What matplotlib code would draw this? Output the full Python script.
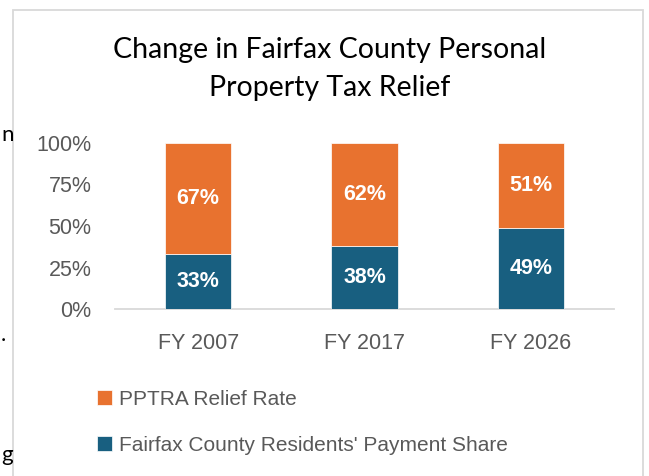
import numpy as np
import matplotlib.pyplot as plt
from matplotlib.patches import Rectangle

ORANGE = "#E8722F"
BLUE = "#185F80"
GREY = "#595959"
LINE = "#D9D9D9"

years = ["FY 2007", "FY 2017", "FY 2026"]
payment_share = [0.33, 0.38, 0.49]
relief_rate = [0.67, 0.62, 0.51]
yticks = [0, 0.25, 0.5, 0.75, 1.0]
ytick_labels = ["0%", "25%", "50%", "75%", "100%"]

W, H = 649, 476
fig = plt.figure(figsize=(W / 100, H / 100), dpi=100)
fig.patch.set_facecolor("white")

# chart frame of the screenshot
fig.patches.append(Rectangle((13 / W, -0.05), (643 - 13) / W, 1.05 - 10 / H,
                             transform=fig.transFigure, fill=False,
                             edgecolor=LINE, lw=1.3))
# cut-off text from the page around the chart
fig.text(1 / W, 1 - 135 / H, "n", fontsize=16, family="Lato", va="center", ha="left")
fig.text(1 / W, 1 - 335 / H, ".", fontsize=16, family="Lato", va="center", ha="left")
fig.text(1 / W, 1 - 455 / H, "g", fontsize=16, family="Lato", va="center", ha="left")

ax = fig.add_axes([115 / W, 1 - 309 / H, (614 - 115) / W, (309 - 143) / H])
x = np.arange(len(years))
bw = 0.40
ax.bar(x, payment_share, bw, color=BLUE, label="Fairfax County Residents' Payment Share",
       edgecolor="white", linewidth=0.5, zorder=3)
ax.bar(x, relief_rate, bw, bottom=payment_share, color=ORANGE, label="PPTRA Relief Rate",
       edgecolor="white", linewidth=0.5, zorder=3)

for i in range(len(years)):
    ax.text(x[i], payment_share[i] / 2, f"{payment_share[i]:.0%}", ha="center", va="center",
            color="white", fontsize=15.5, fontweight="bold", family="Liberation Sans")
    ax.text(x[i], payment_share[i] + relief_rate[i] / 2, f"{relief_rate[i]:.0%}", ha="center",
            va="center", color="white", fontsize=15.5, fontweight="bold", family="Liberation Sans")

ax.set_xlim(-0.5, 2.5)
ax.set_ylim(0, 1)
ax.set_yticks(yticks)
ax.set_yticklabels(ytick_labels)
ax.set_xticks(x)
ax.set_xticklabels(years)
for spine in ["top", "right", "left"]:
    ax.spines[spine].set_visible(False)
ax.spines["bottom"].set_color(LINE)
ax.spines["bottom"].set_linewidth(1.3)
ax.tick_params(length=0, labelsize=15.5, colors=GREY)
ax.tick_params(axis="y", pad=17)
ax.tick_params(axis="x", pad=17)
for lab in ax.get_xticklabels() + ax.get_yticklabels():
    lab.set_family("Liberation Sans")

fig.text(330 / W, 1 - 69 / H, "Change in Fairfax County Personal\nProperty Tax Relief",
         ha="center", va="center", fontsize=20.5, family="Lato", linespacing=1.6, color="black")

handles, labels = ax.get_legend_handles_labels()
fig.legend(handles[::-1], labels[::-1], loc="upper left", bbox_to_anchor=(78 / W, 1 - 371 / H),
           frameon=False, labelspacing=1.3, handlelength=0.75, handleheight=0.75,
           handletextpad=0.3, labelcolor=GREY, prop={"family": "Liberation Sans", "size": 15})

fig.savefig("out.png", dpi=100)
